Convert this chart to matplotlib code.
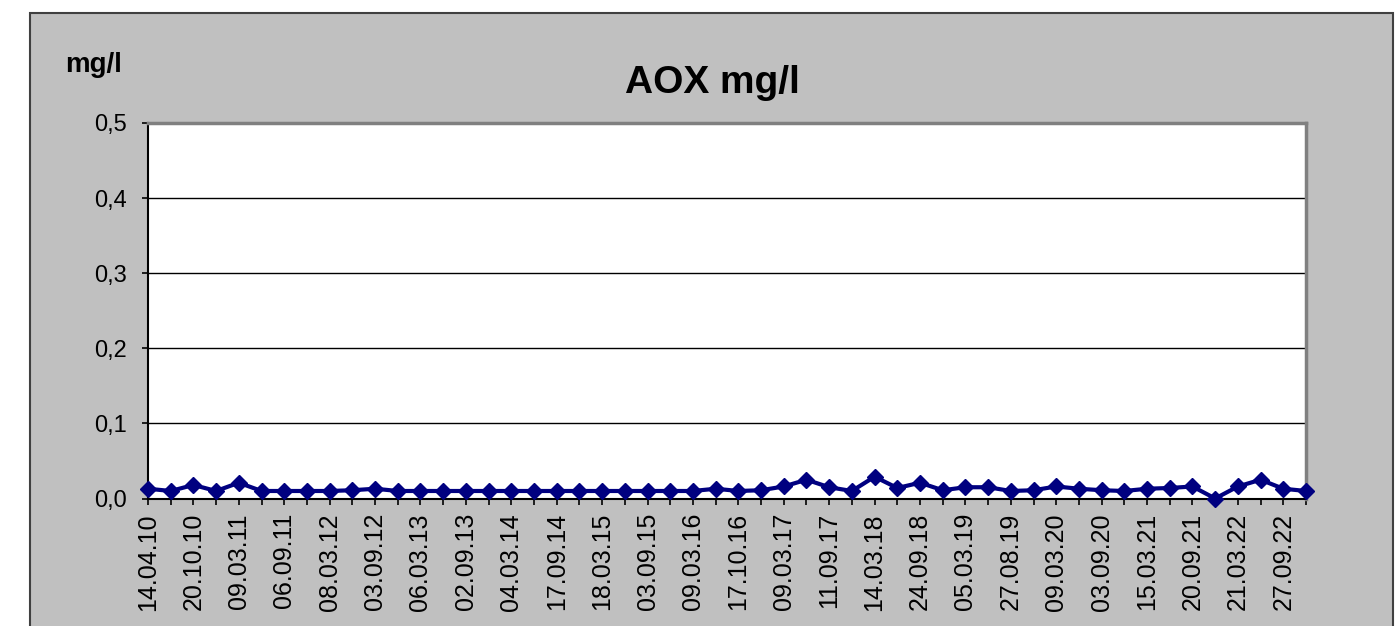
import matplotlib
matplotlib.use("Agg")
import matplotlib.pyplot as plt
from matplotlib.patches import Rectangle
from matplotlib.ticker import FuncFormatter

plt.rcParams["font.family"] = ["Liberation Sans", "DejaVu Sans"]

# sampling dates (only every second one is printed on the axis)
date_labels = ["14.04.10", "20.10.10", "09.03.11", "06.09.11", "08.03.12",
               "03.09.12", "06.03.13", "02.09.13", "04.03.14", "17.09.14",
               "18.03.15", "03.09.15", "09.03.16", "17.10.16", "09.03.17",
               "11.09.17", "14.03.18", "24.09.18", "05.03.19", "27.08.19",
               "09.03.20", "03.09.20", "15.03.21", "20.09.21", "21.03.22",
               "27.09.22"]

# AOX mg/l, one value per sample
aox = [0.013, 0.010, 0.018, 0.010, 0.021, 0.010, 0.010, 0.010, 0.010, 0.011,
       0.013, 0.010, 0.010, 0.010, 0.010, 0.010, 0.010, 0.010, 0.010, 0.010,
       0.010, 0.010, 0.010, 0.010, 0.010, 0.013, 0.010, 0.011, 0.016, 0.025,
       0.015, 0.010, 0.029, 0.014, 0.021, 0.011, 0.015, 0.015, 0.010, 0.011,
       0.016, 0.013, 0.011, 0.010, 0.013, 0.014, 0.016, 0.000, 0.016, 0.025,
       0.013, 0.010]

y_ticks = [0.0, 0.1, 0.2, 0.3, 0.4, 0.5]

W, H = 1396, 626
fig = plt.figure(figsize=(W / 100, H / 100), dpi=100)
fig.patch.set_facecolor("white")

# grey chart area with dark outline (bottom runs off the page)
fig.patches.append(Rectangle((30 / W, -0.05), 1363 / W, (H - 13) / H + 0.05,
                             transform=fig.transFigure, facecolor="#c0c0c0",
                             edgecolor="#404040", linewidth=1.5, zorder=-1))

ax = fig.add_axes([148 / W, 1 - 498.5 / H, (1306 - 148) / W, (498.5 - 123) / H])
ax.set_facecolor("white")

x = list(range(len(aox)))
ax.plot(x, aox, color="#000080", linewidth=3, marker="D", markersize=8.5,
        markerfacecolor="#000080", markeredgecolor="#000080",
        clip_on=False, zorder=5)

ax.set_xlim(0, len(aox) - 1)
ax.set_ylim(0, 0.5)
ax.set_yticks(y_ticks)
ax.yaxis.set_major_formatter(FuncFormatter(lambda v, p: ("%.1f" % v).replace(".", ",")))

tick_text = [date_labels[i // 2] if i % 2 == 0 else "" for i in x]
ax.set_xticks(x)
ax.set_xticklabels(tick_text, rotation=90, fontsize=18)

for v in y_ticks[1:-1]:
    ax.axhline(v, color="black", linewidth=1.0, zorder=1)

ax.tick_params(axis="y", direction="out", length=4.5, width=1.2, pad=10.5,
               labelsize=17, colors="black")
ax.tick_params(axis="x", direction="out", length=4.5, width=1.2, pad=6)

ax.spines["left"].set_color("black")
ax.spines["left"].set_linewidth(1.5)
ax.spines["bottom"].set_color("black")
ax.spines["bottom"].set_linewidth(1.5)
ax.spines["top"].set_color("#808080")
ax.spines["top"].set_linewidth(2.5)
ax.spines["right"].set_color("#808080")
ax.spines["right"].set_linewidth(2.5)

fig.text(712 / W, 1 - 93 / H, "AOX mg/l", ha="center", va="baseline",
         fontsize=28, fontweight="bold")
fig.text(65 / W, 1 - 72.5 / H, "mg/l", ha="left", va="baseline",
         fontsize=20, fontweight="bold")

fig.savefig("out.png", dpi=100, facecolor=fig.get_facecolor())
